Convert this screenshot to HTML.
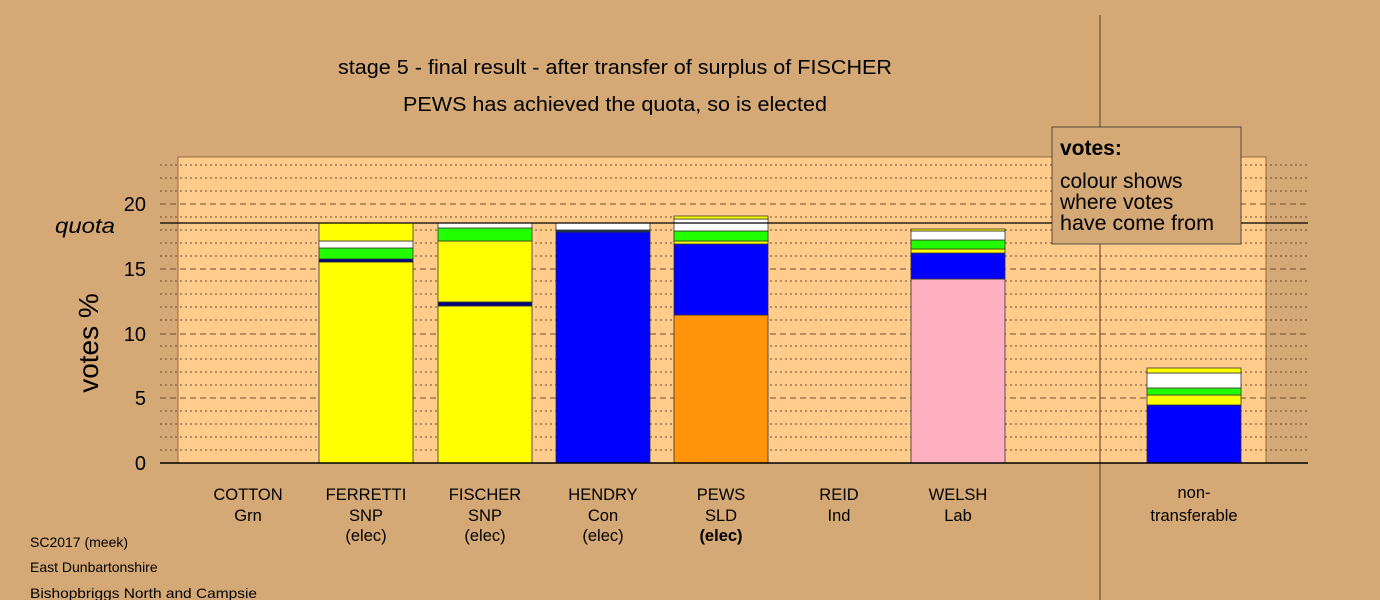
<!DOCTYPE html>
<html><head><style>body{margin:0;background:#d5a976}svg{display:block}text{font-family:"Liberation Sans",sans-serif}</style></head><body>
<svg width="1380" height="600" xmlns="http://www.w3.org/2000/svg">
<rect width="1380" height="600" fill="#d5a976"/>
<rect x="178" y="157" width="1088" height="306" fill="#ffcc8c" stroke="#6b4a2a" stroke-width="0.7"/>
<g stroke="#6b4a2a" stroke-width="1">
<g stroke-dasharray="2,3">
<line x1="160" x2="1308" y1="450" y2="450"/><line x1="160" x2="1308" y1="437" y2="437"/><line x1="160" x2="1308" y1="424" y2="424"/><line x1="160" x2="1308" y1="411" y2="411"/>
<line x1="160" x2="1308" y1="385" y2="385"/><line x1="160" x2="1308" y1="372" y2="372"/><line x1="160" x2="1308" y1="359" y2="359"/><line x1="160" x2="1308" y1="346" y2="346"/>
<line x1="160" x2="1308" y1="320" y2="320"/><line x1="160" x2="1308" y1="307" y2="307"/><line x1="160" x2="1308" y1="294" y2="294"/><line x1="160" x2="1308" y1="281" y2="281"/>
<line x1="160" x2="1308" y1="256" y2="256"/><line x1="160" x2="1308" y1="243" y2="243"/><line x1="160" x2="1308" y1="230" y2="230"/><line x1="160" x2="1308" y1="217" y2="217"/>
<line x1="160" x2="1308" y1="191" y2="191"/><line x1="160" x2="1308" y1="178" y2="178"/><line x1="160" x2="1308" y1="165" y2="165"/>
</g>
<g stroke-dasharray="6,4">
<line x1="160" x2="1308" y1="398" y2="398"/><line x1="160" x2="1308" y1="334" y2="334"/><line x1="160" x2="1308" y1="269" y2="269"/><line x1="160" x2="1308" y1="204" y2="204"/>
</g>
</g>
<line x1="1100" y1="15" x2="1100" y2="600" stroke="#5a3d20" stroke-width="1"/>
<g stroke="#333" stroke-width="0.8">
<rect x="319" y="262" width="94" height="201" fill="#ffff00"/><rect x="319" y="259" width="94" height="3" fill="#000080"/><rect x="319" y="248" width="94" height="11" fill="#22ff00"/><rect x="319" y="241" width="94" height="7" fill="#fff"/><rect x="319" y="223" width="94" height="18" fill="#ffff00"/>
<rect x="438" y="306" width="94" height="157" fill="#ffff00"/><rect x="438" y="302" width="94" height="4" fill="#000080"/><rect x="438" y="241" width="94" height="61" fill="#ffff00"/><rect x="438" y="228" width="94" height="13" fill="#22ff00"/><rect x="438" y="223" width="94" height="5" fill="#fff"/>
<rect x="556" y="232" width="94" height="231" fill="#0000ff"/><rect x="556" y="230" width="94" height="2" fill="#113355"/><rect x="556" y="223" width="94" height="7" fill="#fff"/>
<rect x="674" y="315" width="94" height="148" fill="#ff940a"/><rect x="674" y="244" width="94" height="71" fill="#0000ff"/><rect x="674" y="241" width="94" height="3" fill="#ffff00"/><rect x="674" y="231" width="94" height="10" fill="#22ff00"/><rect x="674" y="219" width="94" height="12" fill="#fff"/><rect x="674" y="216" width="94" height="3" fill="#ffff00"/>
<rect x="911" y="279" width="94" height="184" fill="#ffb0c0"/><rect x="911" y="253" width="94" height="26" fill="#0000ff"/><rect x="911" y="249" width="94" height="4" fill="#ffff00"/><rect x="911" y="240" width="94" height="9" fill="#22ff00"/><rect x="911" y="231" width="94" height="9" fill="#fff"/><rect x="911" y="229" width="94" height="2" fill="#ffff00"/>
<rect x="1147" y="405" width="94" height="58" fill="#0000ff"/><rect x="1147" y="395" width="94" height="10" fill="#ffff00"/><rect x="1147" y="388" width="94" height="7" fill="#22ff00"/><rect x="1147" y="373" width="94" height="15" fill="#fff"/><rect x="1147" y="368" width="94" height="5" fill="#ffff00"/>
</g>
<line x1="160" x2="1308" y1="223" y2="223" stroke="#000" stroke-width="1.2"/>
<line x1="160" x2="1308" y1="463" y2="463" stroke="#000" stroke-width="1.5"/>
<g font-size="20" text-anchor="end" fill="#000">
<text x="146" y="470">0</text><text x="146" y="405">5</text><text x="146" y="341">10</text><text x="146" y="276">15</text><text x="146" y="211">20</text>
<text x="115" y="233" font-style="italic" font-size="21" textLength="60" lengthAdjust="spacingAndGlyphs">quota</text>
</g>
<text transform="translate(98,343) rotate(-90)" font-size="28" text-anchor="middle">votes %</text>
<g font-size="20"><text x="338" y="74" textLength="554" lengthAdjust="spacingAndGlyphs">stage 5 - final result - after transfer of surplus of FISCHER</text><text x="403" y="111" textLength="424" lengthAdjust="spacingAndGlyphs">PEWS has achieved the quota, so is elected</text></g>
<rect x="1052" y="127" width="189" height="117" fill="#d5a976" stroke="#333" stroke-width="0.8"/>
<g font-size="21"><text x="1060" y="155" font-weight="bold">votes:</text><text x="1060" y="188">colour shows</text><text x="1060" y="209">where votes</text><text x="1060" y="230" textLength="154" lengthAdjust="spacingAndGlyphs">have come from</text></g>
<g font-size="16.5" text-anchor="middle">
<text x="248" y="500">COTTON</text><text x="248" y="521">Grn</text>
<text x="366" y="500">FERRETTI</text><text x="366" y="521">SNP</text><text x="366" y="541">(elec)</text>
<text x="485" y="500">FISCHER</text><text x="485" y="521">SNP</text><text x="485" y="541">(elec)</text>
<text x="603" y="500">HENDRY</text><text x="603" y="521">Con</text><text x="603" y="541">(elec)</text>
<text x="721" y="500">PEWS</text><text x="721" y="521">SLD</text><text x="721" y="541" font-weight="bold">(elec)</text>
<text x="839" y="500">REID</text><text x="839" y="521">Ind</text>
<text x="958" y="500">WELSH</text><text x="958" y="521">Lab</text>
<text x="1194" y="498">non-</text><text x="1194" y="521">transferable</text>
</g>
<g font-size="14"><text x="30" y="547">SC2017 (meek)</text><text x="30" y="572">East Dunbartonshire</text><text x="30" y="598" textLength="227" lengthAdjust="spacingAndGlyphs">Bishopbriggs North and Campsie</text></g>
</svg>
</body></html>
